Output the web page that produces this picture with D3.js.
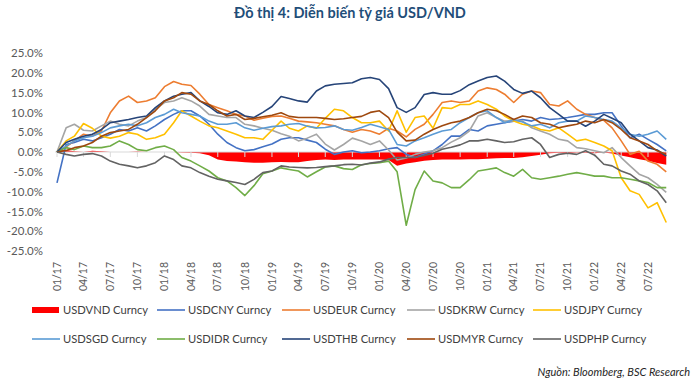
<!DOCTYPE html>
<html>
<head>
<meta charset="utf-8">
<script src="https://cdn.jsdelivr.net/npm/d3@7"></script>
<style>
  body { margin: 0; background: #fff; }
  svg text { font-family: Lato, "Open Sans", sans-serif; }
</style>
</head>
<body>
<svg width="700" height="389"></svg>
<script>
// monthly % change vs start of 2017 (01/2017 .. 09/2022)
var vnd = [0.4, 0.5, 0.2, 0.0, 0.3, 0.2, 0.0, 0.0, 0.0, 0.1,
  0.0, 0.0, 0.0, 0.0, -0.1, -0.2, -0.3, -0.8, -1.9, -2.3,
  -2.4, -2.6, -2.7, -2.7, -2.6, -2.5, -2.6, -2.6, -2.3, -2.0,
  -1.9, -2.0, -1.9, -1.9, -1.9, -1.9, -1.9, -2.0, -3.5, -2.9,
  -2.6, -2.2, -2.0, -1.9, -1.9, -1.9, -1.8, -1.8, -1.7, -1.6,
  -1.5, -1.5, -1.3, -1.0, -0.7, -0.3, -0.2, -0.3, -0.1, -0.2,
  -0.3, -0.1, -0.4, -0.9, -1.3, -1.8, -2.2, -2.8, -3.2];
var cny = [-7.8, 1.9, 2.4, 3.2, 2.8, 3.6, 4.5, 5.7, 5.3, 6.1,
  5.3, 6.6, 8.2, 9.5, 10.4, 10.4, 9.1, 7.0, 4.5, 2.4,
  1.1, 0.3, 0.6, 1.3, 2.0, 3.2, 3.6, 3.6, 3.0, 2.4,
  0.7, -0.6, 0.0, 0.3, -0.2, 0.0, 0.3, 0.8, 1.1, -0.6,
  -1.4, -0.5, 0.3, 1.9, 4.0, 4.0, 5.7, 5.3, 6.6, 7.0,
  7.4, 7.8, 8.2, 7.8, 8.7, 8.2, 8.4, 8.7, 9.1, 9.5,
  9.5, 9.9, 9.9, 6.6, 3.6, 4.5, 3.2, 1.9, 0.3];
var eur = [0.0, 1.3, 2.8, 4.5, 4.0, 5.3, 9.9, 12.9, 14.1, 12.5,
  12.9, 13.7, 16.5, 17.8, 17.1, 16.8, 14.6, 12.0, 11.2, 10.4,
  9.5, 9.1, 8.0, 8.5, 9.0, 9.1, 8.5, 7.8, 7.6, 7.4,
  7.0, 6.6, 5.7, 5.0, 5.7, 5.3, 4.5, 6.0, 5.3, 3.8,
  5.7, 7.0, 9.5, 12.5, 12.9, 12.5, 12.9, 15.4, 16.2, 15.8,
  14.6, 12.5, 14.6, 15.4, 15.0, 12.0, 11.6, 12.9, 10.8, 9.5,
  8.7, 8.0, 6.1, 2.8, -0.6, 0.2, -2.3, -3.1, -5.0];
var krw = [0.0, 6.1, 7.0, 5.5, 5.3, 6.6, 7.8, 7.0, 6.6, 7.8,
  8.7, 10.8, 12.5, 12.9, 13.7, 12.9, 11.6, 9.5, 9.1, 8.7,
  8.7, 7.0, 6.6, 6.0, 5.5, 4.6, 4.0, 2.8, 3.5, 4.5,
  2.0, 0.5, 1.9, 3.5, 2.8, 1.9, 2.8, 0.5, -2.0, -1.5,
  -0.6, 0.0, 0.3, 1.1, 2.5, 3.6, 5.3, 9.1, 9.9, 8.7,
  7.8, 7.9, 7.8, 6.1, 5.3, 4.5, 3.2, 2.8, 1.1, 0.8,
  0.3, -0.2, 1.1, -1.4, -3.5, -5.6, -6.5, -8.2, -10.2];
var jpy = [0.0, 2.8, 4.0, 7.2, 6.0, 4.0, 3.5, 4.0, 4.9, 4.5,
  3.2, 3.6, 4.5, 7.4, 10.4, 9.1, 7.8, 6.6, 6.1, 5.3,
  4.5, 3.6, 3.6, 3.2, 5.5, 7.8, 6.0, 5.3, 6.6, 6.0,
  8.5, 10.8, 10.4, 8.7, 7.4, 7.4, 7.8, 5.3, 10.4, 5.0,
  8.7, 9.1, 6.0, 11.2, 11.0, 12.0, 12.0, 12.9, 12.0, 10.8,
  9.1, 7.8, 7.0, 6.6, 5.7, 5.3, 6.1, 4.5, 2.8, 3.2,
  2.4, 1.5, 0.3, -6.5, -9.8, -10.7, -14.1, -12.8, -17.8];
var sgd = [0.0, 1.5, 2.8, 3.6, 4.0, 4.9, 6.1, 6.6, 7.0, 6.6,
  7.4, 8.7, 9.5, 10.8, 9.9, 9.5, 9.1, 7.8, 7.0, 7.0,
  7.4, 6.1, 5.5, 6.0, 6.4, 6.6, 7.0, 7.2, 6.5, 6.1,
  6.2, 6.6, 5.7, 5.5, 6.2, 7.0, 6.4, 5.7, 1.9, 1.5,
  2.8, 3.6, 4.5, 5.3, 5.7, 7.4, 8.7, 9.9, 10.4, 8.7,
  7.4, 8.2, 7.6, 6.6, 7.0, 6.1, 7.4, 7.8, 7.8, 9.1,
  8.7, 8.2, 7.8, 6.1, 4.5, 4.0, 4.5, 5.3, 3.2];
var idr = [0.0, 1.1, 0.6, 1.5, 1.1, 1.1, 1.5, 2.8, 1.9, 0.6,
  0.3, 1.1, 1.5, 0.6, -1.4, -2.3, -3.5, -4.8, -6.5, -7.3,
  -9.0, -11.0, -8.5, -5.5, -4.8, -4.0, -4.4, -4.8, -6.3, -5.0,
  -3.8, -3.5, -4.2, -4.4, -3.2, -2.9, -2.7, -2.3, -5.0, -18.5,
  -9.5, -4.8, -7.3, -7.8, -9.0, -9.0, -7.0, -4.8, -4.4, -4.0,
  -5.2, -6.1, -4.4, -6.5, -6.9, -6.5, -6.1, -5.6, -5.2, -5.6,
  -6.1, -6.1, -6.5, -6.5, -6.9, -7.3, -7.7, -9.0, -9.0];
var thb = [0.0, 2.4, 3.2, 4.0, 4.5, 5.7, 7.4, 7.8, 8.2, 8.7,
  9.1, 11.2, 12.9, 14.1, 14.6, 15.0, 12.9, 11.5, 9.9, 9.5,
  10.4, 9.1, 8.7, 10.0, 11.5, 14.0, 13.5, 12.9, 12.6, 15.4,
  16.7, 17.1, 17.3, 17.5, 18.5, 18.8, 18.3, 16.0, 11.2, 10.0,
  11.2, 14.5, 15.0, 14.6, 14.6, 15.5, 17.0, 17.9, 18.8, 19.2,
  17.9, 15.8, 14.8, 15.4, 13.7, 11.2, 9.5, 7.8, 7.8, 6.5,
  7.8, 9.5, 8.5, 7.4, 4.5, 2.8, 1.1, 0.5, -1.0];
var myr = [0.0, 0.4, 1.1, 1.5, 2.4, 4.0, 4.9, 5.3, 5.7, 7.0,
  8.7, 10.4, 12.9, 13.7, 15.0, 14.6, 12.9, 12.0, 10.4, 9.1,
  9.5, 8.2, 8.5, 8.9, 9.3, 9.9, 9.0, 8.7, 8.7, 8.7,
  8.5, 8.2, 8.4, 8.7, 9.0, 10.0, 10.4, 8.7, 5.0, 2.8,
  3.0, 4.5, 5.7, 6.6, 7.4, 7.8, 8.7, 9.9, 10.8, 10.4,
  9.5, 8.2, 9.1, 8.7, 7.4, 7.0, 6.1, 6.6, 7.0, 7.8,
  7.4, 8.2, 7.4, 5.7, 3.6, 2.8, 1.9, 0.3, -0.6];
var php = [0.0, -0.6, -1.0, -0.6, -0.4, -1.0, -2.3, -3.1, -3.5, -4.0,
  -3.5, -2.7, -1.0, -1.9, -3.5, -4.0, -5.2, -6.1, -6.9, -7.3,
  -7.7, -8.2, -6.9, -5.2, -4.8, -3.5, -3.8, -3.9, -4.0, -3.9,
  -3.7, -3.5, -3.2, -3.1, -3.3, -2.8, -2.5, -1.8, -1.4, -1.4,
  -1.4, -0.9, -0.3, 0.7, 1.2, 1.8, 2.8, 2.8, 3.2, 2.8,
  2.4, 2.6, 3.2, 3.6, 1.9, -1.4, -0.6, -0.3, -0.6, 0.3,
  -0.8, -3.1, -3.5, -4.8, -5.6, -7.3, -8.2, -9.8, -12.8];

var lineNames = ['USDCNY Curncy', 'USDEUR Curncy', 'USDKRW Curncy', 'USDJPY Curncy',
  'USDSGD Curncy', 'USDIDR Curncy', 'USDTHB Curncy', 'USDMYR Curncy', 'USDPHP Curncy'];
var lineValues = [cny, eur, krw, jpy, sgd, idr, thb, myr, php];
var lineColors = ['#4472C4', '#ED7D31', '#A5A5A5', '#FFC000',
  '#5B9BD5', '#70AD47', '#264478', '#9E480E', '#636363'];

var tickLabels = ['01/17', '04/17', '07/17', '10/17', '01/18', '04/18', '07/18', '10/18',
  '01/19', '04/19', '07/19', '10/19', '01/20', '04/20', '07/20', '10/20',
  '01/21', '04/21', '07/21', '10/21', '01/22', '04/22', '07/22'];
var yTicks = [25, 20, 15, 10, 5, 0, -5, -10, -15, -20, -25];

var svg = d3.select('svg');

var months = d3.timeMonth.range(new Date(2017, 0, 1), new Date(2022, 9, 1));
var tickDates = d3.timeMonth.every(3).range(new Date(2017, 0, 1), new Date(2022, 7, 1));

var x = d3.scaleTime()
  .domain([new Date(2017, 0, 1), new Date(2022, 6, 1)])
  .range([57, 648]);
var y = d3.scaleLinear()
  .domain([-25, 25])
  .range([251, 53]);

// title
svg.append('text')
  .attr('x', 350)
  .attr('y', 18)
  .attr('text-anchor', 'middle')
  .attr('font-size', 14.5)
  .attr('font-weight', 'bold')
  .attr('fill', '#1F4E79')
  .text('Đồ thị 4: Diễn biến tỷ giá USD/VND');

// y axis labels only
var yAxis = svg.append('g')
  .attr('transform', 'translate(48,0)')
  .call(d3.axisLeft(y).tickValues(yTicks).tickSize(0).tickPadding(5)
    .tickFormat(function(d) { return d.toFixed(1) + '%'; }));
yAxis.select('.domain').remove();
yAxis.selectAll('text')
  .attr('font-size', 11.5)
  .attr('fill', '#595959')
  .style('font-family', 'Lato, sans-serif');

// VND as red area
var area = d3.area()
  .x(function(d, i) { return x(months[i]); })
  .y0(y(0))
  .y1(function(d) { return y(d); });

svg.append('path')
  .datum(vnd)
  .attr('d', area)
  .attr('fill', '#FF0000');

// category axis through zero
svg.append('line')
  .attr('x1', 55).attr('x2', 668)
  .attr('y1', y(0)).attr('y2', y(0))
  .attr('stroke', '#D9D9D9')
  .attr('stroke-width', 1);

svg.append('g')
  .selectAll('line')
  .data(tickDates)
  .enter().append('line')
  .attr('x1', function(d) { return x(d); })
  .attr('x2', function(d) { return x(d); })
  .attr('y1', y(0))
  .attr('y2', y(0) + 5)
  .attr('stroke', '#D9D9D9');

svg.append('g')
  .selectAll('text')
  .data(tickDates)
  .enter().append('text')
  .attr('transform', function(d) { return 'translate(' + x(d) + ',262) rotate(-90)'; })
  .attr('dy', '0.35em')
  .attr('text-anchor', 'end')
  .attr('font-size', 10.5)
  .attr('fill', '#595959')
  .text(function(d, i) { return tickLabels[i]; });

// lines
var line = d3.line()
  .x(function(d, i) { return x(months[i]); })
  .y(function(d) { return y(d); });

svg.append('g')
  .selectAll('path')
  .data(lineValues)
  .enter().append('path')
  .attr('d', line)
  .attr('fill', 'none')
  .attr('stroke', function(d, i) { return lineColors[i]; })
  .attr('stroke-width', 1.6)
  .attr('stroke-linejoin', 'round');

// legend
var legendItems = [{ name: 'USDVND Curncy', color: '#FF0000', rect: true }];
lineNames.forEach(function(n, i) {
  legendItems.push({ name: n, color: lineColors[i], rect: false });
});
var colX = [32, 157, 282, 407, 533];
var rowY = [310, 339];

var leg = svg.append('g')
  .selectAll('g')
  .data(legendItems)
  .enter().append('g')
  .attr('transform', function(d, i) {
    return 'translate(' + colX[i % 5] + ',' + rowY[Math.floor(i / 5)] + ')';
  });

leg.filter(function(d) { return d.rect; })
  .append('rect')
  .attr('x', 0).attr('y', -3)
  .attr('width', 27).attr('height', 6)
  .attr('fill', function(d) { return d.color; });

leg.filter(function(d) { return !d.rect; })
  .append('line')
  .attr('x1', 0).attr('x2', 28)
  .attr('y1', 0).attr('y2', 0)
  .attr('stroke', function(d) { return d.color; })
  .attr('stroke-width', 1.6);

leg.append('text')
  .attr('x', 31)
  .attr('dy', '0.35em')
  .attr('font-size', 11.2)
  .attr('fill', '#404040')
  .text(function(d) { return d.name; });

// source
svg.append('text')
  .attr('x', 690)
  .attr('y', 376)
  .attr('text-anchor', 'end')
  .attr('font-size', 11)
  .attr('font-style', 'italic')
  .attr('fill', '#262626')
  .text('Nguồn: Bloomberg, BSC Research');
</script>
</body>
</html>
